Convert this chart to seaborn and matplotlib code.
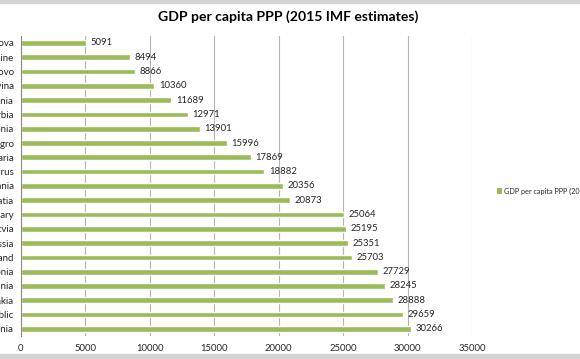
import matplotlib
matplotlib.use('Agg')
import matplotlib.pyplot as plt
import seaborn as sns
import pandas as pd
from matplotlib.patches import Rectangle, Patch

# values (top to bottom)
countries = [
    'Moldova', 'Ukraine', 'Kosovo', 'Bosnia and Herzegovina', 'Albania',
    'Serbia', 'Macedonia', 'Montenegro', 'Bulgaria', 'Belarus', 'Romania',
    'Croatia', 'Hungary', 'Latvia', 'Russia', 'Poland', 'Estonia',
    'Lithuania', 'Slovakia', 'Czech Republic', 'Slovenia'
]
gdp = [
    5091, 8494, 8866, 10360, 11689, 12971, 13901, 15996, 17869, 18882, 20356,
    20873, 25064, 25195, 25351, 25703, 27729, 28245, 28888, 29659, 30266
]
x_ticks = [0, 5000, 10000, 15000, 20000, 25000, 30000, 35000]
series_name = 'GDP per capita PPP (2015 IMF estimates)'
title = 'GDP per capita PPP (2015 IMF estimates)'
bar_color = '#9bbb59'

sns.set_style('white')
plt.rcParams['font.family'] = ['Lato', 'DejaVu Sans']

df = pd.DataFrame({'country': countries, 'gdp': gdp})

W, H = 580, 359
fig = plt.figure(figsize=(W / 100, H / 100), dpi=100)
# plot area placed so the category labels run off the left edge, like the crop
x0, x1, y0, y1 = 20.7, 472, 35.8, 336
ax = fig.add_axes([x0 / W, 1 - y1 / H, (x1 - x0) / W, (y1 - y0) / H])

sns.barplot(data=df, x='gdp', y='country', orient='h', color=bar_color,
            saturation=1, width=0.4, ax=ax)
ax.bar_label(ax.containers[0], padding=3.3, fontsize=6.8, color='#262626')

ax.set_xlim(0, 35000)
ax.set_xticks(x_ticks)
ax.set_xticklabels([str(t) for t in x_ticks], fontsize=6.8, color='#262626')
ax.tick_params(axis='x', length=0, pad=6)
ax.xaxis.grid(True, color='#b3b3b3', linewidth=0.8)
ax.set_axisbelow(True)
ax.set_xlabel('')
ax.set_ylabel('')

ax.set_yticks(range(len(countries)))
ax.set_yticklabels(countries, fontsize=7, color='#262626')
ax.set_yticks([i - 0.5 for i in range(len(countries) + 1)], minor=True)
ax.tick_params(axis='y', which='major', length=0, pad=5)
ax.tick_params(axis='y', which='minor', length=4, color='#8c8c8c', width=0.8)

for s in ['top', 'right', 'bottom']:
    ax.spines[s].set_visible(False)
ax.spines['left'].set_color('#8c8c8c')
ax.spines['left'].set_linewidth(0.8)

fig.text(288 / W, 1 - 17 / H, title, ha='center', va='center',
         fontsize=10.1, fontweight='bold', color='#000000')

fig.legend([Patch(facecolor=bar_color, edgecolor='none')], [series_name],
           loc='center left', bbox_to_anchor=(490 / W, 1 - 191 / H),
           frameon=False, fontsize=5.2, handlelength=0.8, handleheight=0.8,
           handletextpad=0.3, labelcolor='#262626')

# grey edges of the surrounding window
fig.patches.append(Rectangle((0, 1 - 3 / H), 1, 3 / H, transform=fig.transFigure,
                             color='#d4d4d4', zorder=0))
fig.patches.append(Rectangle((0, 0), 1, 5 / H, transform=fig.transFigure,
                             color='#d4d4d4', zorder=0))

fig.savefig('out.png', dpi=100)
